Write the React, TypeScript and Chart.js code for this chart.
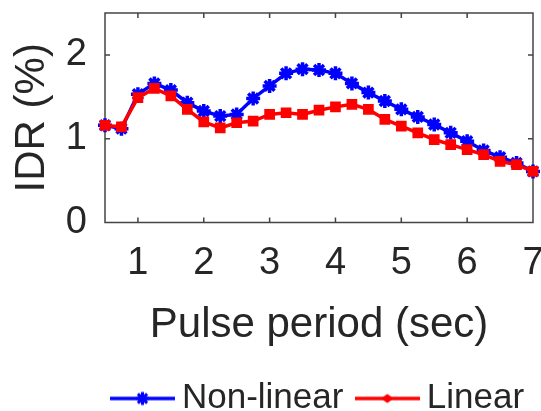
import React, { useEffect, useRef } from "react";
import { Chart, registerables } from "chart.js";

Chart.register(...registerables);

// ---- data ----
const periods = [0.5, 0.75, 1, 1.25, 1.5, 1.75, 2, 2.25, 2.5, 2.75, 3, 3.25, 3.5, 3.75, 4, 4.25, 4.5, 4.75, 5, 5.25, 5.5, 5.75, 6, 6.25, 6.5, 6.75, 7];
const nonLinear = [1.16, 1.12, 1.53, 1.66, 1.58, 1.43, 1.33, 1.27, 1.29, 1.48, 1.63, 1.78, 1.83, 1.82, 1.78, 1.66, 1.55, 1.45, 1.35, 1.26, 1.17, 1.07, 0.97, 0.86, 0.78, 0.71, 0.61];
const linear = [1.16, 1.14, 1.49, 1.6, 1.51, 1.35, 1.2, 1.13, 1.19, 1.21, 1.29, 1.31, 1.29, 1.34, 1.38, 1.41, 1.35, 1.23, 1.15, 1.07, 0.99, 0.93, 0.87, 0.81, 0.73, 0.69, 0.61];
const seriesNames = ["Non-linear", "Linear"];
const xTicks = [1, 2, 3, 4, 5, 6, 7];
const yTicks = [0, 1, 2];
const xTitle = "Pulse period (sec)";
const yTitle = "IDR (%)";

const FONT = "'Liberation Sans', Arial, Helvetica, sans-serif";
const TEXT = "#262626";
const BLUE = "#0000ff";
const RED = "#ff0000";

function legendImage(kind: "star" | "diamond", color: string): HTMLCanvasElement {
  const c = document.createElement("canvas");
  c.width = 65;
  c.height = 18;
  const g = c.getContext("2d")!;
  g.strokeStyle = color;
  g.fillStyle = color;
  g.lineWidth = 3.5;
  g.beginPath();
  g.moveTo(0, 9);
  g.lineTo(65, 9);
  g.stroke();
  const cx = 32.5, cy = 9;
  if (kind === "star") {
    g.lineWidth = 3;
    const r = 6.5;
    for (let i = 0; i < 4; i++) {
      const a = (i * Math.PI) / 4;
      g.beginPath();
      g.moveTo(cx - r * Math.cos(a), cy - r * Math.sin(a));
      g.lineTo(cx + r * Math.cos(a), cy + r * Math.sin(a));
      g.stroke();
    }
  } else {
    g.beginPath();
    g.moveTo(cx - 6.5, cy);
    g.lineTo(cx, cy - 4.5);
    g.lineTo(cx + 6.5, cy);
    g.lineTo(cx, cy + 4.5);
    g.closePath();
    g.fill();
  }
  return c;
}

const framePlugin = {
  id: "matlabFrame",
  beforeDatasetsDraw(chart: any) {
    const { ctx, chartArea: a, scales } = chart;
    const x = scales.x;
    const y = scales.y;
    ctx.save();
    ctx.strokeStyle = "#444444";
    ctx.lineWidth = 1.5;
    ctx.strokeRect(a.left, a.top, a.right - a.left, a.bottom - a.top);
    const len = 5;
    ctx.beginPath();
    for (const t of xTicks) {
      const px = x.getPixelForValue(t);
      if (px <= a.left + 1 || px >= a.right - 1) continue;
      ctx.moveTo(px, a.bottom);
      ctx.lineTo(px, a.bottom - len);
      ctx.moveTo(px, a.top);
      ctx.lineTo(px, a.top + len);
    }
    for (const t of yTicks) {
      const py = y.getPixelForValue(t);
      if (py <= a.top + 1 || py >= a.bottom - 1) continue;
      ctx.moveTo(a.left, py);
      ctx.lineTo(a.left + len, py);
      ctx.moveTo(a.right, py);
      ctx.lineTo(a.right - len, py);
    }
    ctx.stroke();
    ctx.restore();
  },
};

function zeroPad(s: any) {
  s.paddingLeft = 0;
  s.paddingRight = 0;
  s.paddingTop = 0;
  s.paddingBottom = 0;
}

export default function App() {
  const ref = useRef<HTMLCanvasElement | null>(null);

  useEffect(() => {
    if (!ref.current) return;
    const images = [legendImage("star", BLUE), legendImage("diamond", RED)];
    const chart = new Chart(ref.current, {
      type: "line",
      data: {
        datasets: [
          {
            label: seriesNames[0],
            data: periods.map((p, i) => ({ x: p, y: nonLinear[i] })),
            borderColor: BLUE,
            backgroundColor: BLUE,
            borderWidth: 3.5,
            pointStyle: "star",
            pointRadius: 7,
            pointBorderWidth: 3.5,
            pointBorderColor: BLUE,
            pointBackgroundColor: BLUE,
            tension: 0,
            clip: false,
            order: 2,
          },
          {
            label: seriesNames[1],
            data: periods.map((p, i) => ({ x: p, y: linear[i] })),
            borderColor: RED,
            backgroundColor: RED,
            borderWidth: 3.5,
            pointStyle: "rect",
            pointRadius: 6.5,
            pointBorderWidth: 1.5,
            pointBorderColor: RED,
            pointBackgroundColor: RED,
            tension: 0,
            clip: false,
            order: 1,
          },
        ],
      },
      options: {
        animation: false,
        responsive: false,
        devicePixelRatio: 1,
        layout: { autoPadding: false, padding: { left: 7, right: -5, top: 13, bottom: -15 } },
        scales: {
          x: {
            type: "linear",
            min: 0.5,
            max: 7,
            grid: { display: false, drawTicks: false },
            border: { display: false },
            afterBuildTicks: (s: any) => {
              s.ticks = xTicks.map((v) => ({ value: v }));
            },
            afterFit: (s: any) => {
              zeroPad(s);
              s.height = 136.6;
            },
            ticks: {
              padding: 18,
              color: TEXT,
              font: { family: FONT, size: 38 },
            },
            title: {
              display: true,
              text: xTitle,
              color: TEXT,
              font: { family: FONT, size: 42 },
              padding: { top: 14, bottom: 8 },
            },
          },
          y: {
            type: "linear",
            min: 0,
            max: 2.5,
            grid: { display: false, drawTicks: false },
            border: { display: false },
            afterBuildTicks: (s: any) => {
              s.ticks = yTicks.map((v) => ({ value: v }));
            },
            afterFit: (s: any) => {
              zeroPad(s);
              s.width = 98;
            },
            ticks: {
              padding: 18,
              color: TEXT,
              font: { family: FONT, size: 38 },
            },
            title: {
              display: true,
              text: yTitle,
              color: TEXT,
              font: { family: FONT, size: 42 },
              padding: { top: 0, bottom: 8 },
            },
          },
          yR: {
            type: "linear",
            position: "right",
            display: true,
            grid: { display: false, drawTicks: false },
            border: { display: false },
            ticks: { display: false },
            afterFit: (s: any) => {
              zeroPad(s);
              s.width = 13;
            },
          },
        },
        plugins: {
          legend: {
            position: "bottom",
            align: "end",
            labels: {
              usePointStyle: true,
              pointStyleWidth: 44,
              boxHeight: 18,
              padding: 21.9,
              color: TEXT,
              font: { family: FONT, size: 35 },
              sort: (a: any, b: any) => a.datasetIndex - b.datasetIndex,
              generateLabels: (c: any) => {
                const items = Chart.defaults.plugins.legend.labels.generateLabels(c);
                return items.map((it: any) => ({ ...it, pointStyle: images[it.datasetIndex] }));
              },
            },
          },
          tooltip: { enabled: false },
        },
      } as any,
      plugins: [framePlugin],
    });
    return () => chart.destroy();
  }, []);

  return (
    <div style={{ position: "absolute", left: 0, top: 0, width: 541, height: 411, background: "#fff" }}>
      <canvas ref={ref} width={541} height={411} />
    </div>
  );
}
